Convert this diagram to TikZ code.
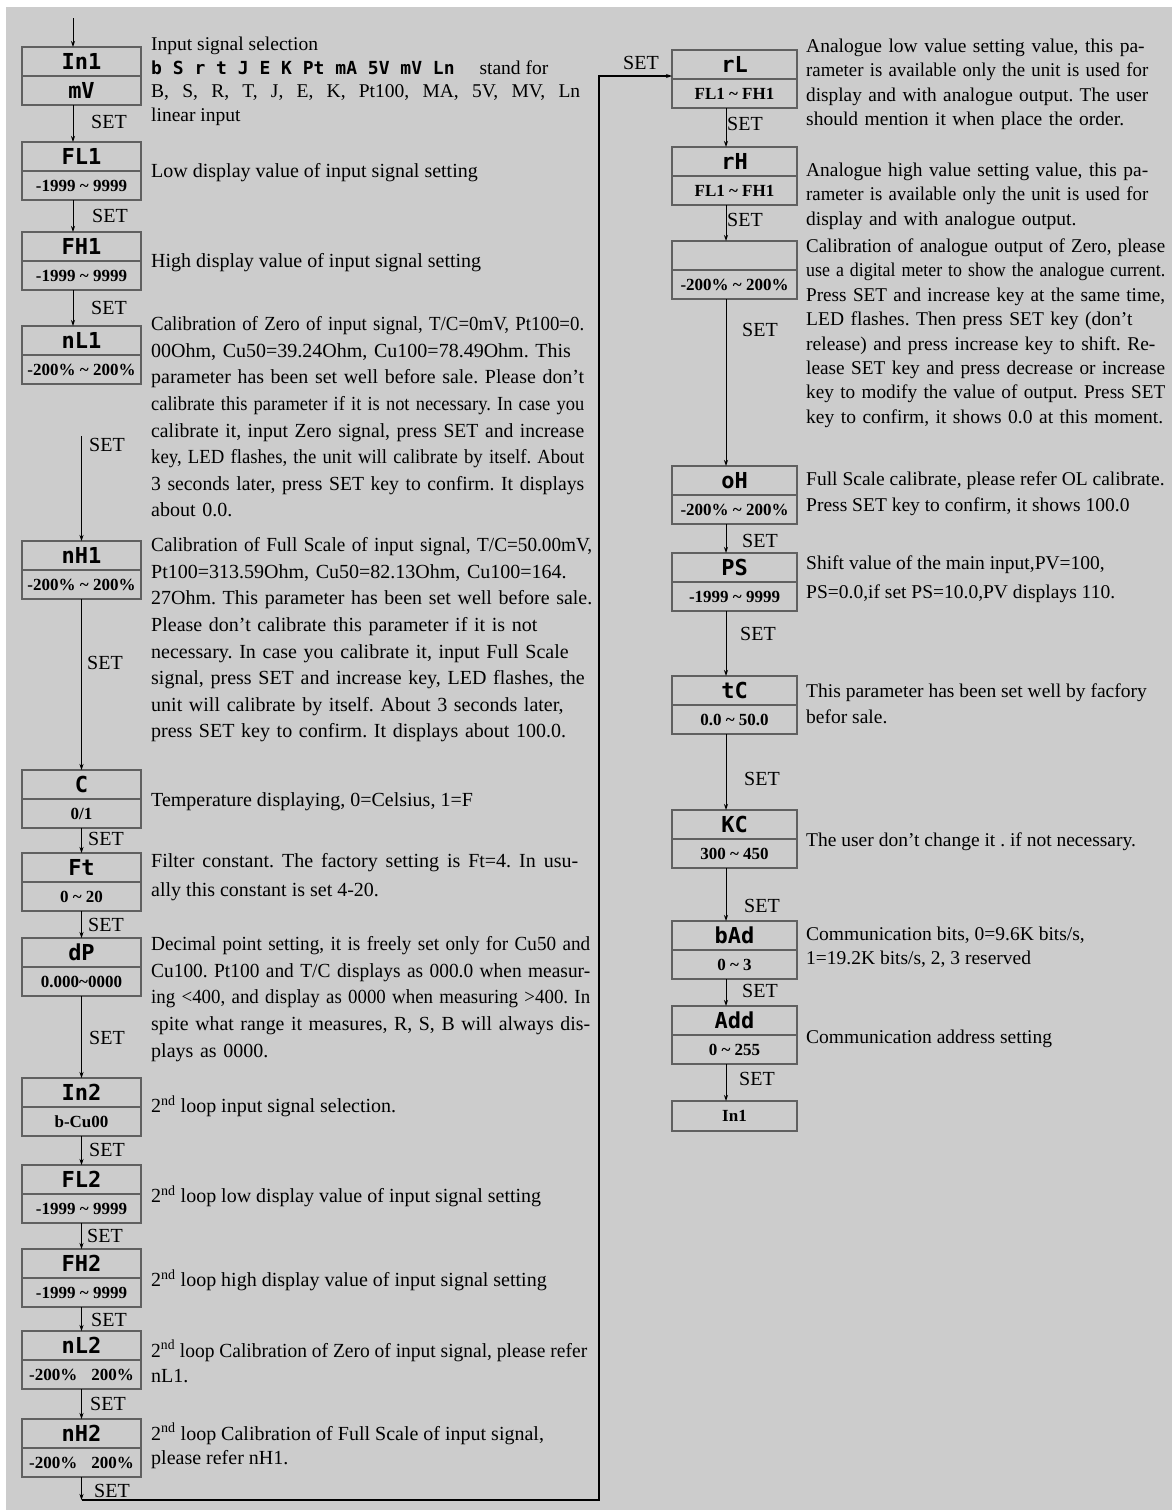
\documentclass[tikz,border=0pt]{standalone}
\usepackage{fontspec}
\setmainfont{Liberation Serif}
\newfontfamily\segfont{DejaVu Sans Mono}
\usepackage{graphicx}
\usetikzlibrary{positioning, arrows.meta}
\definecolor{panelgray}{RGB}{204,204,204}
\definecolor{boxgray}{RGB}{96,96,96}
\frenchspacing

\newcommand\lfont{\fontsize{20}{26.6}\selectfont}
\newcommand\rfont{\fontsize{19.5}{24.4}\selectfont}
\newcommand\setfont{\fontsize{20}{20}\selectfont}
\newcommand\rngfont{\fontsize{17}{17}\selectfont\bfseries}
\newcommand\dispfont{\fontsize{22}{22}\selectfont\segfont\bfseries}
\newcommand\seginline{\fontsize{18}{18}\selectfont\segfont\bfseries}
\newcommand\tld{\textasciitilde}

% one justified line, squeezed if it is too long
\newsavebox\jlbox
\newcommand\jl[2][\hsize]{\leavevmode\sbox\jlbox{#2}%
  \ifdim\wd\jlbox>#1\resizebox{#1}{\ht\jlbox}{\usebox\jlbox}%
  \else\hbox to #1{#2}\fi}

\tikzset{
  disp/.style={draw=boxgray, line width=1.8pt, minimum height=29pt, inner sep=0pt, outer sep=0pt, font=\dispfont},
  ldisp/.style={disp, minimum width=119pt},
  rdisp/.style={disp, minimum width=125pt},
  lrng/.style={ldisp, font=\rngfont},
  rrng/.style={rdisp, font=\rngfont},
  setlbl/.style={font=\setfont, inner sep=0pt},
  ldesc/.style={anchor=north west, inner sep=0pt, align=left, font=\lfont, execute at begin node=\strut},
  rdesc/.style={ldesc, font=\rfont},
  arr/.style={-{Stealth[length=6pt,width=4pt]}, line width=0.9pt},
}

\begin{document}
\begin{tikzpicture}[x=1pt, y=-1pt]
  \fill[white] (0,0) rectangle (1172,1510);
  \fill[panelgray] (6,7) rectangle (1172,1510);
  \useasboundingbox (0,0) rectangle (1172,1510);

  % left column
  \node[ldisp] (in1) at (81.5,61.5) {In1};
  \node[lrng, below=0pt of in1, font=\dispfont] (in1v) {mV};
  \node[ldisp] (fl1) at (81.5,156.5) {FL1};
  \node[lrng, below=0pt of fl1] (fl1v) {-1999 \tld{} 9999};
  \node[ldisp] (fh1) at (81.5,246.5) {FH1};
  \node[lrng, below=0pt of fh1] (fh1v) {-1999 \tld{} 9999};
  \node[ldisp] (nl1) at (81.5,340.5) {nL1};
  \node[lrng, below=0pt of nl1] (nl1v) {-200\% \tld{} 200\%};
  \node[ldisp] (nh1) at (81.5,555.5) {nH1};
  \node[lrng, below=0pt of nh1] (nh1v) {-200\% \tld{} 200\%};
  \node[ldisp] (c) at (81.5,784.5) {C};
  \node[lrng, below=0pt of c] (cv) {0/1};
  \node[ldisp] (ft) at (81.5,867.5) {Ft};
  \node[lrng, below=0pt of ft] (ftv) {0 \tld{} 20};
  \node[ldisp] (dp) at (81.5,952.5) {dP};
  \node[lrng, below=0pt of dp] (dpv) {0.000\tld{}0000};
  \node[ldisp] (in2) at (81.5,1092.5) {In2};
  \node[lrng, below=0pt of in2] (in2v) {b-Cu00};
  \node[ldisp] (fl2) at (81.5,1179.5) {FL2};
  \node[lrng, below=0pt of fl2] (fl2v) {-1999 \tld{} 9999};
  \node[ldisp] (fh2) at (81.5,1263.5) {FH2};
  \node[lrng, below=0pt of fh2] (fh2v) {-1999 \tld{} 9999};
  \node[ldisp] (nl2) at (81.5,1345.5) {nL2};
  \node[lrng, below=0pt of nl2] (nl2v) {-200\%\hspace{14pt}200\%};
  \node[ldisp] (nh2) at (81.5,1433.5) {nH2};
  \node[lrng, below=0pt of nh2] (nh2v) {-200\%\hspace{14pt}200\%};

  % right column
  \node[rdisp] (rl) at (734.5,64.5) {rL};
  \node[rrng, below=0pt of rl] (rlv) {FL1 \tld{} FH1};
  \node[rdisp] (rh) at (734.5,161.5) {rH};
  \node[rrng, below=0pt of rh] (rhv) {FL1 \tld{} FH1};
  \node[rdisp] (ol) at (734.5,255.5) {};
  \node[rrng, below=0pt of ol] (olv) {-200\% \tld{} 200\%};
  \node[rdisp] (oh) at (734.5,480.5) {oH};
  \node[rrng, below=0pt of oh] (ohv) {-200\% \tld{} 200\%};
  \node[rdisp] (ps) at (734.5,567.5) {PS};
  \node[rrng, below=0pt of ps] (psv) {-1999 \tld{} 9999};
  \node[rdisp] (tc) at (734.5,690.5) {tC};
  \node[rrng, below=0pt of tc] (tcv) {0.0 \tld{} 50.0};
  \node[rdisp] (kc) at (734.5,824.5) {KC};
  \node[rrng, below=0pt of kc] (kcv) {300 \tld{} 450};
  \node[rdisp] (bad) at (734.5,935.5) {bAd};
  \node[rrng, below=0pt of bad] (badv) {0 \tld{} 3};
  \node[rdisp] (add) at (734.5,1020.5) {Add};
  \node[rrng, below=0pt of add] (addv) {0 \tld{} 255};
  \node[rrng, minimum height=30pt] (in1e) at (734.5,1116) {In1};

  % connectors
  \coordinate (entry) at (73,18);
  \draw[arr] (entry) -- (entry |- in1.north);
  \foreach \a/\b in {in1v/fl1, fl1v/fh1, fh1v/nl1}
    \draw[arr] ([xshift=-8.5pt]\a.south) -- ([xshift=-8.5pt]\b.north);
  \draw[arr] ([yshift=-52pt]nl1v.south) -- (nh1.north);
  \foreach \a/\b in {nh1v/c, cv/ft, ftv/dp, dpv/in2, in2v/fl2, fl2v/fh2, fh2v/nl2, nl2v/nh2}
    \draw[arr] (\a.south) -- (\b.north);
  \foreach \a/\b in {rlv/rh, rhv/ol, olv/oh, ohv/ps, psv/tc, tcv/kc, kcv/bad, badv/add, addv/in1e}
    \draw[arr] ([xshift=-8.5pt]\a.south) -- ([xshift=-8.5pt]\b.north);
  \coordinate (loopend) at (599,1500);
  \draw[arr] (nh2v.south) -- (nh2v.south |- loopend);
  \draw[arr, line width=1.2pt] (nh2v.south |- loopend) -- (loopend) |- ([yshift=3pt]rl.south west);

  % SET labels
  \node[setlbl] (s1) at (109,122) {SET};
  \node[setlbl] (s2) at (110,216) {SET};
  \node[setlbl] (s3) at (109,308) {SET};
  \node[setlbl] (s4) at (107,445) {SET};
  \node[setlbl] (s5) at (105,663) {SET};
  \node[setlbl] (s6) at (106,839) {SET};
  \node[setlbl] (s7) at (106,925) {SET};
  \node[setlbl] (s8) at (107,1038) {SET};
  \node[setlbl] (s9) at (107,1150) {SET};
  \node[setlbl] (s10) at (105,1236) {SET};
  \node[setlbl] (s11) at (109,1320) {SET};
  \node[setlbl] (s12) at (108,1404) {SET};
  \node[setlbl] (s13) at (112,1491) {SET};
  \node[setlbl] (s14) at (641,63) {SET};
  \node[setlbl] (s15) at (745,124) {SET};
  \node[setlbl] (s16) at (745,220) {SET};
  \node[setlbl] (s17) at (760,330) {SET};
  \node[setlbl] (s18) at (760,541) {SET};
  \node[setlbl] (s19) at (758,634) {SET};
  \node[setlbl] (s20) at (762,779) {SET};
  \node[setlbl] (s21) at (762,906) {SET};
  \node[setlbl] (s22) at (760,991) {SET};
  \node[setlbl] (s23) at (757,1079) {SET};

  % left descriptions
  \node[ldesc, font={\fontsize{19.5}{23.7}\selectfont}] (d-in1) at (151,36.8)
    {Input signal selection\\
     {\seginline b S r t J E K Pt mA 5V mV Ln}\hspace{20pt} stand for\\
     \jl[429pt]{B, S, R, T, J, E, K, Pt100, MA, 5V, MV, Ln}\\
     linear input};
  \node[ldesc] (d-fl1) at (151,158.9) {Low display value of input signal setting};
  \node[ldesc] (d-fh1) at (151,248.9) {High display value of input signal setting};
  \node[ldesc, text width=433pt] (d-nl1) at (151,311.9)
    {\jl{Calibration of Zero of input signal, T/C=0mV, Pt100=0.}\\
     \jl{00Ohm, Cu50=39.24Ohm, Cu100=78.49Ohm. This}\\
     \jl{parameter has been set well before sale. Please don't}\\
     \jl{calibrate this parameter if it is not necessary. In case you}\\
     \jl{calibrate it, input Zero signal, press SET and increase}\\
     \jl{key, LED flashes, the unit will calibrate by itself. About}\\
     \jl{3 seconds later, press SET key to confirm. It displays}\\
     about 0.0.};
  \node[ldesc, text width=441pt] (d-nh1) at (151,532.9)
    {\jl{Calibration of Full Scale of input signal, T/C=50.00mV,}\\
     \jl{Pt100=313.59Ohm, Cu50=82.13Ohm, Cu100=164.}\\
     \jl{27Ohm. This parameter has been set well before sale.}\\
     \jl{Please don't calibrate this parameter if it is not}\\
     \jl{necessary. In case you calibrate it, input Full Scale}\\
     \jl{signal, press SET and increase key, LED flashes, the}\\
     \jl{unit will calibrate by itself. About 3 seconds later,}\\
     press SET key to confirm. It displays about 100.0.};
  \node[ldesc] (d-c) at (151,787.9) {Temperature displaying, 0=Celsius, 1=F};
  \node[ldesc, font={\fontsize{20}{29}\selectfont}] (d-ft) at (151,853.2)
    {\jl[427pt]{Filter constant. The factory setting is Ft=4. In usu-}\\
     ally this constant is set 4-20.};
  \node[ldesc, text width=439pt] (d-dp) at (151,931.9)
    {\jl{Decimal point setting, it is freely set only for Cu50 and}\\
     \jl{Cu100. Pt100 and T/C displays as 000.0 when measur-}\\
     \jl{ing <400, and display as 0000 when measuring >400. In}\\
     \jl{spite what range it measures, R, S, B will always dis-}\\
     plays as 0000.};
  \node[ldesc] (d-in2) at (151,1093.9) {2\textsuperscript{nd} loop input signal selection.};
  \node[ldesc] (d-fl2) at (151,1183.9) {2\textsuperscript{nd} loop low display value of input signal setting};
  \node[ldesc] (d-fh2) at (151,1267.9) {2\textsuperscript{nd} loop high display value of input signal setting};
  \node[ldesc, font={\fontsize{20}{25}\selectfont}] (d-nl2) at (151,1340)
    {\jl[436pt]{2\textsuperscript{nd} loop Calibration of Zero of input signal, please refer}\\ nL1.};
  \node[ldesc, font={\fontsize{20}{24}\selectfont}] (d-nh2) at (151,1422.7)
    {2\textsuperscript{nd} loop Calibration of Full Scale of input signal,\\ please refer nH1.};

  % right descriptions
  \node[rdesc, text width=342pt] (d-rl) at (806,35.3)
    {\jl{Analogue low value setting value, this pa-}\\
     \jl{rameter is available only the unit is used for}\\
     \jl{display and with analogue output. The user}\\
     should mention it when place the order.};
  \node[rdesc, text width=342pt] (d-rh) at (806,159.3)
    {\jl{Analogue high value setting value, this pa-}\\
     \jl{rameter is available only the unit is used for}\\
     display and with analogue output.};
  \node[rdesc, text width=359pt] (d-ol) at (806,235.3)
    {\jl{Calibration of analogue output of Zero, please}\\
     \jl{use a digital meter to show the analogue current.}\\
     \jl{Press SET and increase key at the same time,}\\
     \jl{LED flashes. Then press SET key (don't}\\
     \jl{release) and press increase key to shift. Re-}\\
     \jl{lease SET key and press decrease or increase}\\
     \jl{key to modify the value of output. Press SET}\\
     key to confirm, it shows 0.0 at this moment.};
  \node[rdesc, font={\fontsize{19.5}{26}\selectfont}] (d-oh) at (806,471.2)
    {Full Scale calibrate, please refer OL calibrate.\\ Press SET key to confirm, it shows 100.0};
  \node[rdesc, font={\fontsize{19.5}{29}\selectfont}] (d-ps) at (806,555.1)
    {Shift value of the main input,PV=100,\\ PS=0.0,if set PS=10.0,PV displays 110.};
  \node[rdesc, font={\fontsize{19.5}{26}\selectfont}] (d-tc) at (806,683.2)
    {This parameter has been set well by facfory\\ befor sale.};
  \node[rdesc] (d-kc) at (806,829.3) {The user don't change it . if not necessary.};
  \node[rdesc, font={\fontsize{19.5}{24}\selectfont}] (d-bad) at (806,926.3)
    {Communication bits, 0=9.6K bits/s,\\ 1=19.2K bits/s, 2, 3 reserved};
  \node[rdesc] (d-add) at (806,1026.3) {Communication address setting};
\end{tikzpicture}
\end{document}
